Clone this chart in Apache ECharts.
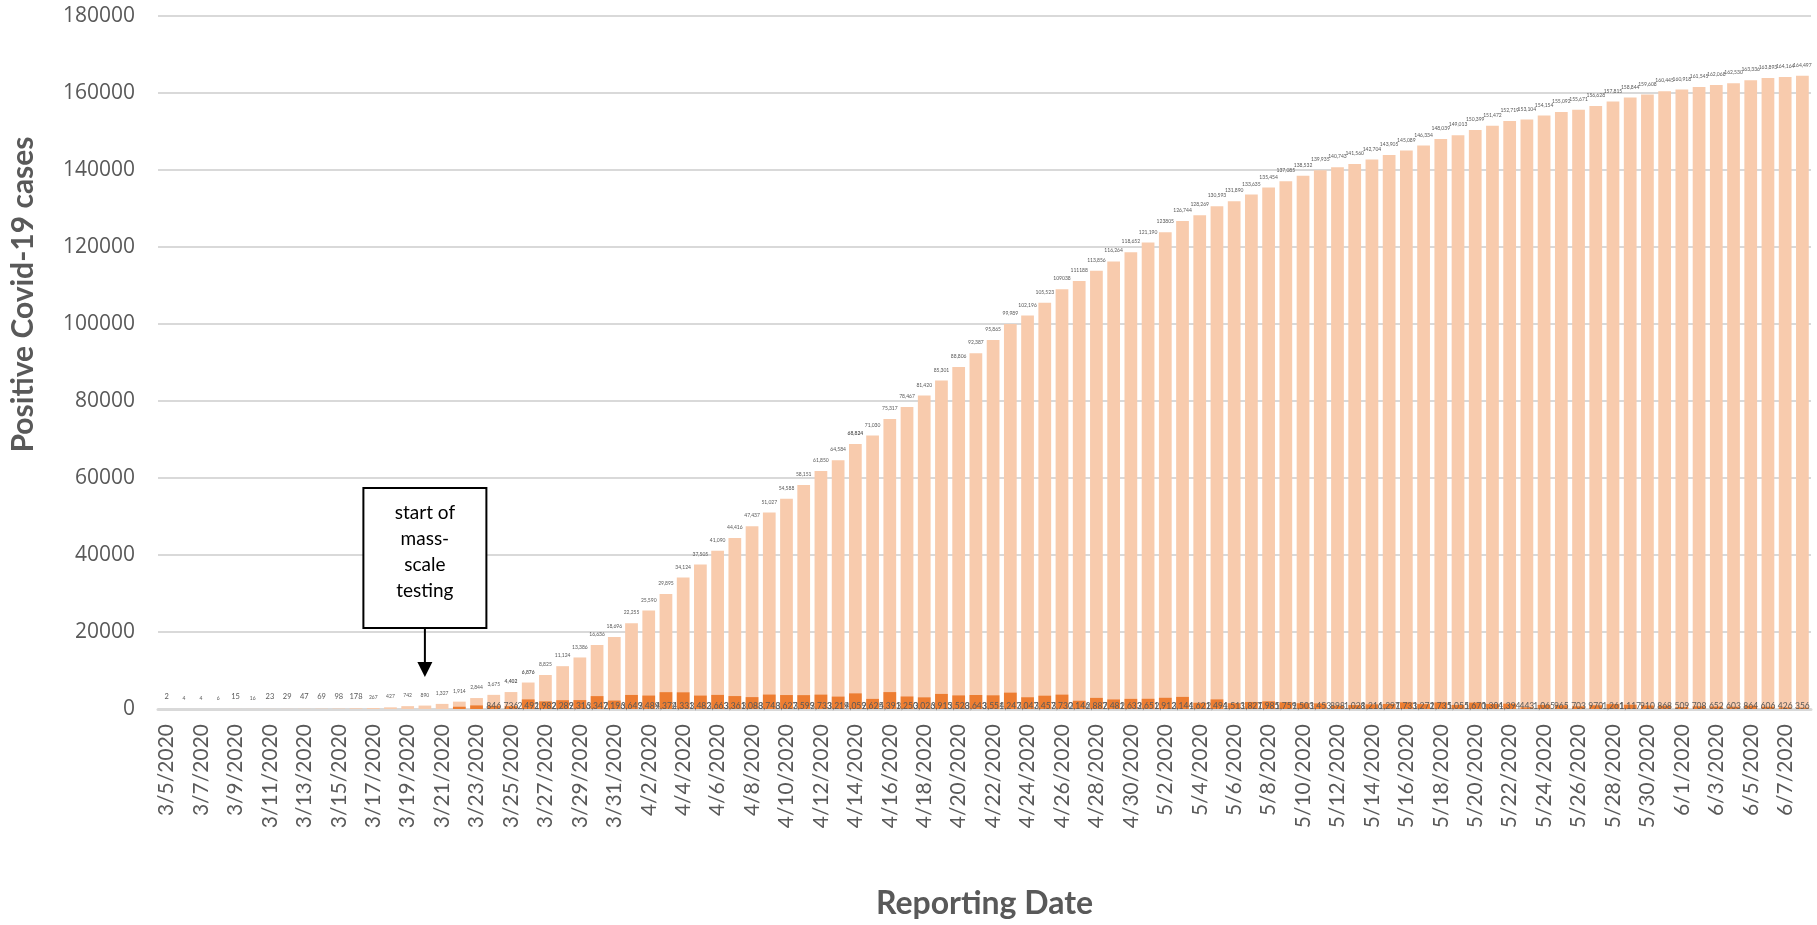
<!DOCTYPE html>
<html>
<head>
<meta charset="utf-8">
<script src="https://cdn.jsdelivr.net/npm/echarts@6/dist/echarts.min.js"></script>
<style>
html,body{margin:0;padding:0;background:#ffffff;}
#chart{width:1817px;height:925px;}
</style>
</head>
<body>
<div id="chart"></div>
<script>
const categories = [
'3/5/2020','3/6/2020','3/7/2020','3/8/2020','3/9/2020','3/10/2020','3/11/2020','3/12/2020','3/13/2020','3/14/2020',
'3/15/2020','3/16/2020','3/17/2020','3/18/2020','3/19/2020','3/20/2020','3/21/2020','3/22/2020','3/23/2020','3/24/2020',
'3/25/2020','3/26/2020','3/27/2020','3/28/2020','3/29/2020','3/30/2020','3/31/2020',
'4/1/2020','4/2/2020','4/3/2020','4/4/2020','4/5/2020','4/6/2020','4/7/2020','4/8/2020','4/9/2020','4/10/2020',
'4/11/2020','4/12/2020','4/13/2020','4/14/2020','4/15/2020','4/16/2020','4/17/2020','4/18/2020','4/19/2020','4/20/2020',
'4/21/2020','4/22/2020','4/23/2020','4/24/2020','4/25/2020','4/26/2020','4/27/2020','4/28/2020','4/29/2020','4/30/2020',
'5/1/2020','5/2/2020','5/3/2020','5/4/2020','5/5/2020','5/6/2020','5/7/2020','5/8/2020','5/9/2020','5/10/2020',
'5/11/2020','5/12/2020','5/13/2020','5/14/2020','5/15/2020','5/16/2020','5/17/2020','5/18/2020','5/19/2020','5/20/2020',
'5/21/2020','5/22/2020','5/23/2020','5/24/2020','5/25/2020','5/26/2020','5/27/2020','5/28/2020','5/29/2020','5/30/2020','5/31/2020',
'6/1/2020','6/2/2020','6/3/2020','6/4/2020','6/5/2020','6/6/2020','6/7/2020','6/8/2020'
];

const cumulativeCases = [
2,4,4,6,15,16,23,29,47,69,
98,178,267,427,742,890,1327,1914,2844,3675,
4402,6876,8825,11124,13386,16636,18696,22255,25590,29895,
34124,37505,41090,44416,47437,51027,54588,58151,61850,64584,
68824,71030,75317,78467,81420,85301,88806,92387,95865,99989,
102196,105523,109038,111188,113856,116264,118652,121190,123805,126744,
128269,130593,131890,133635,135454,137085,138532,139935,140743,141560,
142704,143905,145089,146334,148039,149013,150399,151472,152719,153104,
154154,155092,155671,156628,157815,158844,159608,160445,160918,161545,
162068,162530,163336,163893,164164,164497
];

const dailyCases = [
null,null,null,null,null,null,null,null,null,null,
null,null,null,null,null,null,null,587,930,846,
736,2492,1982,2289,2316,3347,2196,3649,3489,4372,
4331,3482,3663,3361,3088,3748,3627,3599,3733,3219,
4059,2625,4391,3250,3026,3915,3528,3643,3551,4247,
3047,3457,3730,2146,2887,2481,2633,2651,2912,3144,
1621,2494,1513,1827,1985,1759,1503,1453,898,1028,
1216,1297,1733,1272,1735,1055,1670,1304,1394,443,
1065,965,703,970,1261,1117,910,868,509,708,
652,603,864,606,426,356
];

const yMin = 0, yMax = 180000, yStep = 20000;
const yAxisTitle = 'Positive Covid-19 cases';
const xAxisTitle = 'Reporting Date';
const annotationDate = '3/20/2020';
const annotationText = 'start of\nmass-\nscale\ntesting';

// label styling groups (indices), kept apart from the data
const largeCumLabelIdx = [0,4,6,7,8,9,10,11];
const boldCumLabelIdx = [20,21,40];
const plainNumberIdx = [52,53,58];
const firstDailyLabelIdx = 19;

const gray = '#595959';
const fmt = (v) => String(v).replace(/\B(?=(\d{3})+(?!\d))/g, ',');

const chart = echarts.init(document.getElementById('chart'), null, {renderer: 'canvas'});

const cumData = cumulativeCases.map((v, i) => {
  const item = {value: v};
  if (largeCumLabelIdx.includes(i)) item.label = {fontSize: 7.5};
  if (boldCumLabelIdx.includes(i)) item.label = {fontWeight: 'bold'};
  return item;
});

const option = {
  animation: false,
  backgroundColor: '#ffffff',
  grid: {left: 158, right: 6, top: 16, bottom: 216, containLabel: false},
  xAxis: {
    type: 'category',
    data: categories,
    axisLine: {show: true, lineStyle: {color: '#D9D9D9', width: 3}},
    axisTick: {show: false},
    axisLabel: {
      interval: 1, rotate: 90, margin: 15,
      fontFamily: 'Lato', fontSize: 21, color: gray
    },
    name: xAxisTitle,
    nameLocation: 'middle',
    nameGap: 179,
    nameTextStyle: {fontFamily: 'Lato', fontWeight: 'bold', fontSize: 32, color: gray}
  },
  yAxis: {
    type: 'value',
    min: yMin, max: yMax, interval: yStep,
    axisLine: {show: false},
    axisTick: {show: false},
    splitLine: {lineStyle: {color: '#D9D9D9', width: 2}},
    axisLabel: {
      formatter: (v) => String(v),
      fontFamily: 'Open Sans', fontSize: 21, color: gray, margin: 23
    }
  },
  series: [
    {
      name: 'Cumulative',
      type: 'bar',
      data: cumData,
      barWidth: '74%',
      itemStyle: {color: '#F8CBAD'},
      label: {
        show: true, position: 'top', distance: 8,
        fontFamily: 'Lato', fontSize: 5, color: gray,
        formatter: (p) => plainNumberIdx.includes(p.dataIndex) ? String(p.value) : fmt(p.value)
      },
      z: 2
    },
    {
      name: 'Daily',
      type: 'bar',
      data: dailyCases,
      barWidth: '74%',
      barGap: '-100%',
      itemStyle: {color: '#ED7D31'},
      label: {
        show: true, position: 'insideBottom', distance: -2,
        fontFamily: 'Lato', fontSize: 8.5, color: gray,
        formatter: (p) => (p.value == null || p.dataIndex < firstDailyLabelIdx) ? '' : fmt(p.value)
      },
      z: 3
    }
  ]
};

chart.setOption(option);

const cx = chart.convertToPixel({xAxisIndex: 0}, annotationDate);
const y0 = chart.convertToPixel({yAxisIndex: 0}, 0);
const yTop = chart.convertToPixel({yAxisIndex: 0}, yMax);

chart.setOption({
  graphic: [
    {
      type: 'text',
      x: 23, y: (yTop + y0) / 2 - 68,
      rotation: Math.PI / 2,
      style: {
        text: yAxisTitle, fontFamily: 'Lato', fontWeight: 'bold', fontSize: 30,
        fill: gray, align: 'center', verticalAlign: 'middle'
      },
      z: 10
    },
    {
      type: 'rect',
      shape: {x: cx - 61.5, y: y0 - 221, width: 123, height: 140},
      style: {fill: '#ffffff', stroke: '#000000', lineWidth: 2},
      z: 20
    },
    {
      type: 'text',
      x: cx, y: y0 - 157,
      style: {
        text: annotationText, fontFamily: 'Lato', fontSize: 19, lineHeight: 26,
        fill: '#000000', align: 'center', verticalAlign: 'middle'
      },
      z: 21
    },
    {
      type: 'line',
      shape: {x1: cx, y1: y0 - 81, x2: cx, y2: y0 - 46},
      style: {stroke: '#000000', lineWidth: 2},
      z: 20
    },
    {
      type: 'polygon',
      shape: {points: [[cx - 7.5, y0 - 47], [cx + 7.5, y0 - 47], [cx, y0 - 32]]},
      style: {fill: '#000000'},
      z: 20
    }
  ]
});
</script>
</body>
</html>
